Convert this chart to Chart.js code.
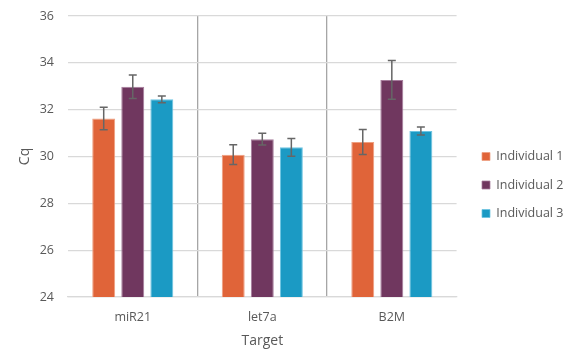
<!DOCTYPE html>
<html>
<head>
<meta charset="utf-8">
<script src="https://cdn.jsdelivr.net/npm/chart.js@4/dist/chart.umd.min.js"></script>
<style>
  html, body { margin: 0; padding: 0; background: #ffffff; }
  #wrap { width: 576px; height: 352px; position: relative; }
</style>
</head>
<body>
<div id="wrap"><canvas id="c" width="576" height="352"></canvas></div>
<script>
const categories = ['miR21', 'let7a', 'B2M'];
const seriesNames = ['Individual 1', 'Individual 2', 'Individual 3'];
const individual1 = [31.62, 30.08, 30.62];
const individual2 = [32.98, 30.74, 33.27];
const individual3 = [32.44, 30.39, 31.09];
const error1 = [0.48, 0.42, 0.53];
const error2 = [0.50, 0.25, 0.83];
const error3 = [0.14, 0.38, 0.17];
const yTicks = [24, 26, 28, 30, 32, 34, 36];

const fills = ['#E06439', '#70375F', '#1B9AC4'];
const borders = ['#EE9F80', '#A67C9C', '#6CC4E2'];
const values = [individual1, individual2, individual3];
const errors = [error1, error2, error3];
const textColor = '#595959';
const fontFam = "'Open Sans', 'Noto Sans', sans-serif";

const errorBarPlugin = {
  id: 'errorBars',
  afterDatasetsDraw(chart) {
    const ctx = chart.ctx;
    const y = chart.scales.y;
    ctx.save();
    ctx.strokeStyle = '#666666';
    ctx.lineWidth = 1.5;
    chart.data.datasets.forEach((ds, di) => {
      const meta = chart.getDatasetMeta(di);
      meta.data.forEach((bar, i) => {
        const v = ds.data[i];
        const e = ds.errors[i];
        const top = y.getPixelForValue(v + e);
        const bot = y.getPixelForValue(v - e);
        const x = bar.x;
        const hw = 4;
        ctx.beginPath();
        ctx.moveTo(x, top); ctx.lineTo(x, bot);
        ctx.moveTo(x - hw, top); ctx.lineTo(x + hw, top);
        ctx.moveTo(x - hw, bot); ctx.lineTo(x + hw, bot);
        ctx.stroke();
      });
    });
    ctx.restore();
  }
};

const legendShift = {
  id: 'legendShift',
  afterLayout(chart) {
    const lg = chart.legend;
    if (lg) {
      const dx = 466 - lg.left;
      lg.left += dx; lg.right += dx;
      lg.top += 1; lg.bottom += 1;
    }
  }
};

new Chart(document.getElementById('c'), {
  type: 'bar',
  data: {
    labels: categories,
    datasets: seriesNames.map((name, k) => ({
      label: name,
      data: values[k],
      errors: errors[k],
      backgroundColor: fills[k],
      borderColor: borders[k],
      borderWidth: { top: 1, left: 1, right: 1, bottom: 0 },
      categoryPercentage: 0.673,
      barPercentage: 0.79
    }))
  },
  options: {
    responsive: false,
    animation: false,
    layout: { padding: { top: 16, right: 12, bottom: 0, left: 0 } },
    plugins: {
      tooltip: { enabled: false },
      legend: {
        position: 'right',
        labels: {
          boxWidth: 8,
          boxHeight: 8,
          padding: 16,
          color: textColor,
          font: { family: fontFam, size: 12.5 }
        }
      }
    },
    scales: {
      x: {
        grid: {
          offset: true,
          drawTicks: false,
          color: (c) => (c.index === 1 || c.index === 2) ? '#a6a6a6' : 'rgba(0,0,0,0)',
          lineWidth: 1.3
        },
        border: { display: true, color: '#d9d9d9', width: 1.3 },
        ticks: { color: textColor, padding: 13, font: { family: fontFam, size: 12.5 } },
        title: {
          display: true, text: 'Target', color: textColor,
          font: { family: fontFam, size: 14 }, padding: { top: 4, bottom: 3 }
        },
        afterFit(scale) { scale.height = 55; scale.paddingLeft = 0; scale.paddingRight = 0; }
      },
      y: {
        min: 24, max: 36,
        afterBuildTicks(scale) { scale.ticks = yTicks.map(v => ({ value: v })); },
        grid: { color: '#d9d9d9', lineWidth: 1.3, drawTicks: false },
        border: { display: false },
        ticks: { color: textColor, padding: 14, font: { family: fontFam, size: 12.5 } },
        title: {
          display: true, text: 'Cq', color: textColor,
          font: { family: fontFam, size: 14 }, padding: { top: 17, bottom: 4 }
        },
        afterFit(scale) { scale.width = 68; scale.paddingTop = 0; scale.paddingBottom = 0; }
      }
    }
  },
  plugins: [errorBarPlugin, legendShift]
});
</script>
</body>
</html>
